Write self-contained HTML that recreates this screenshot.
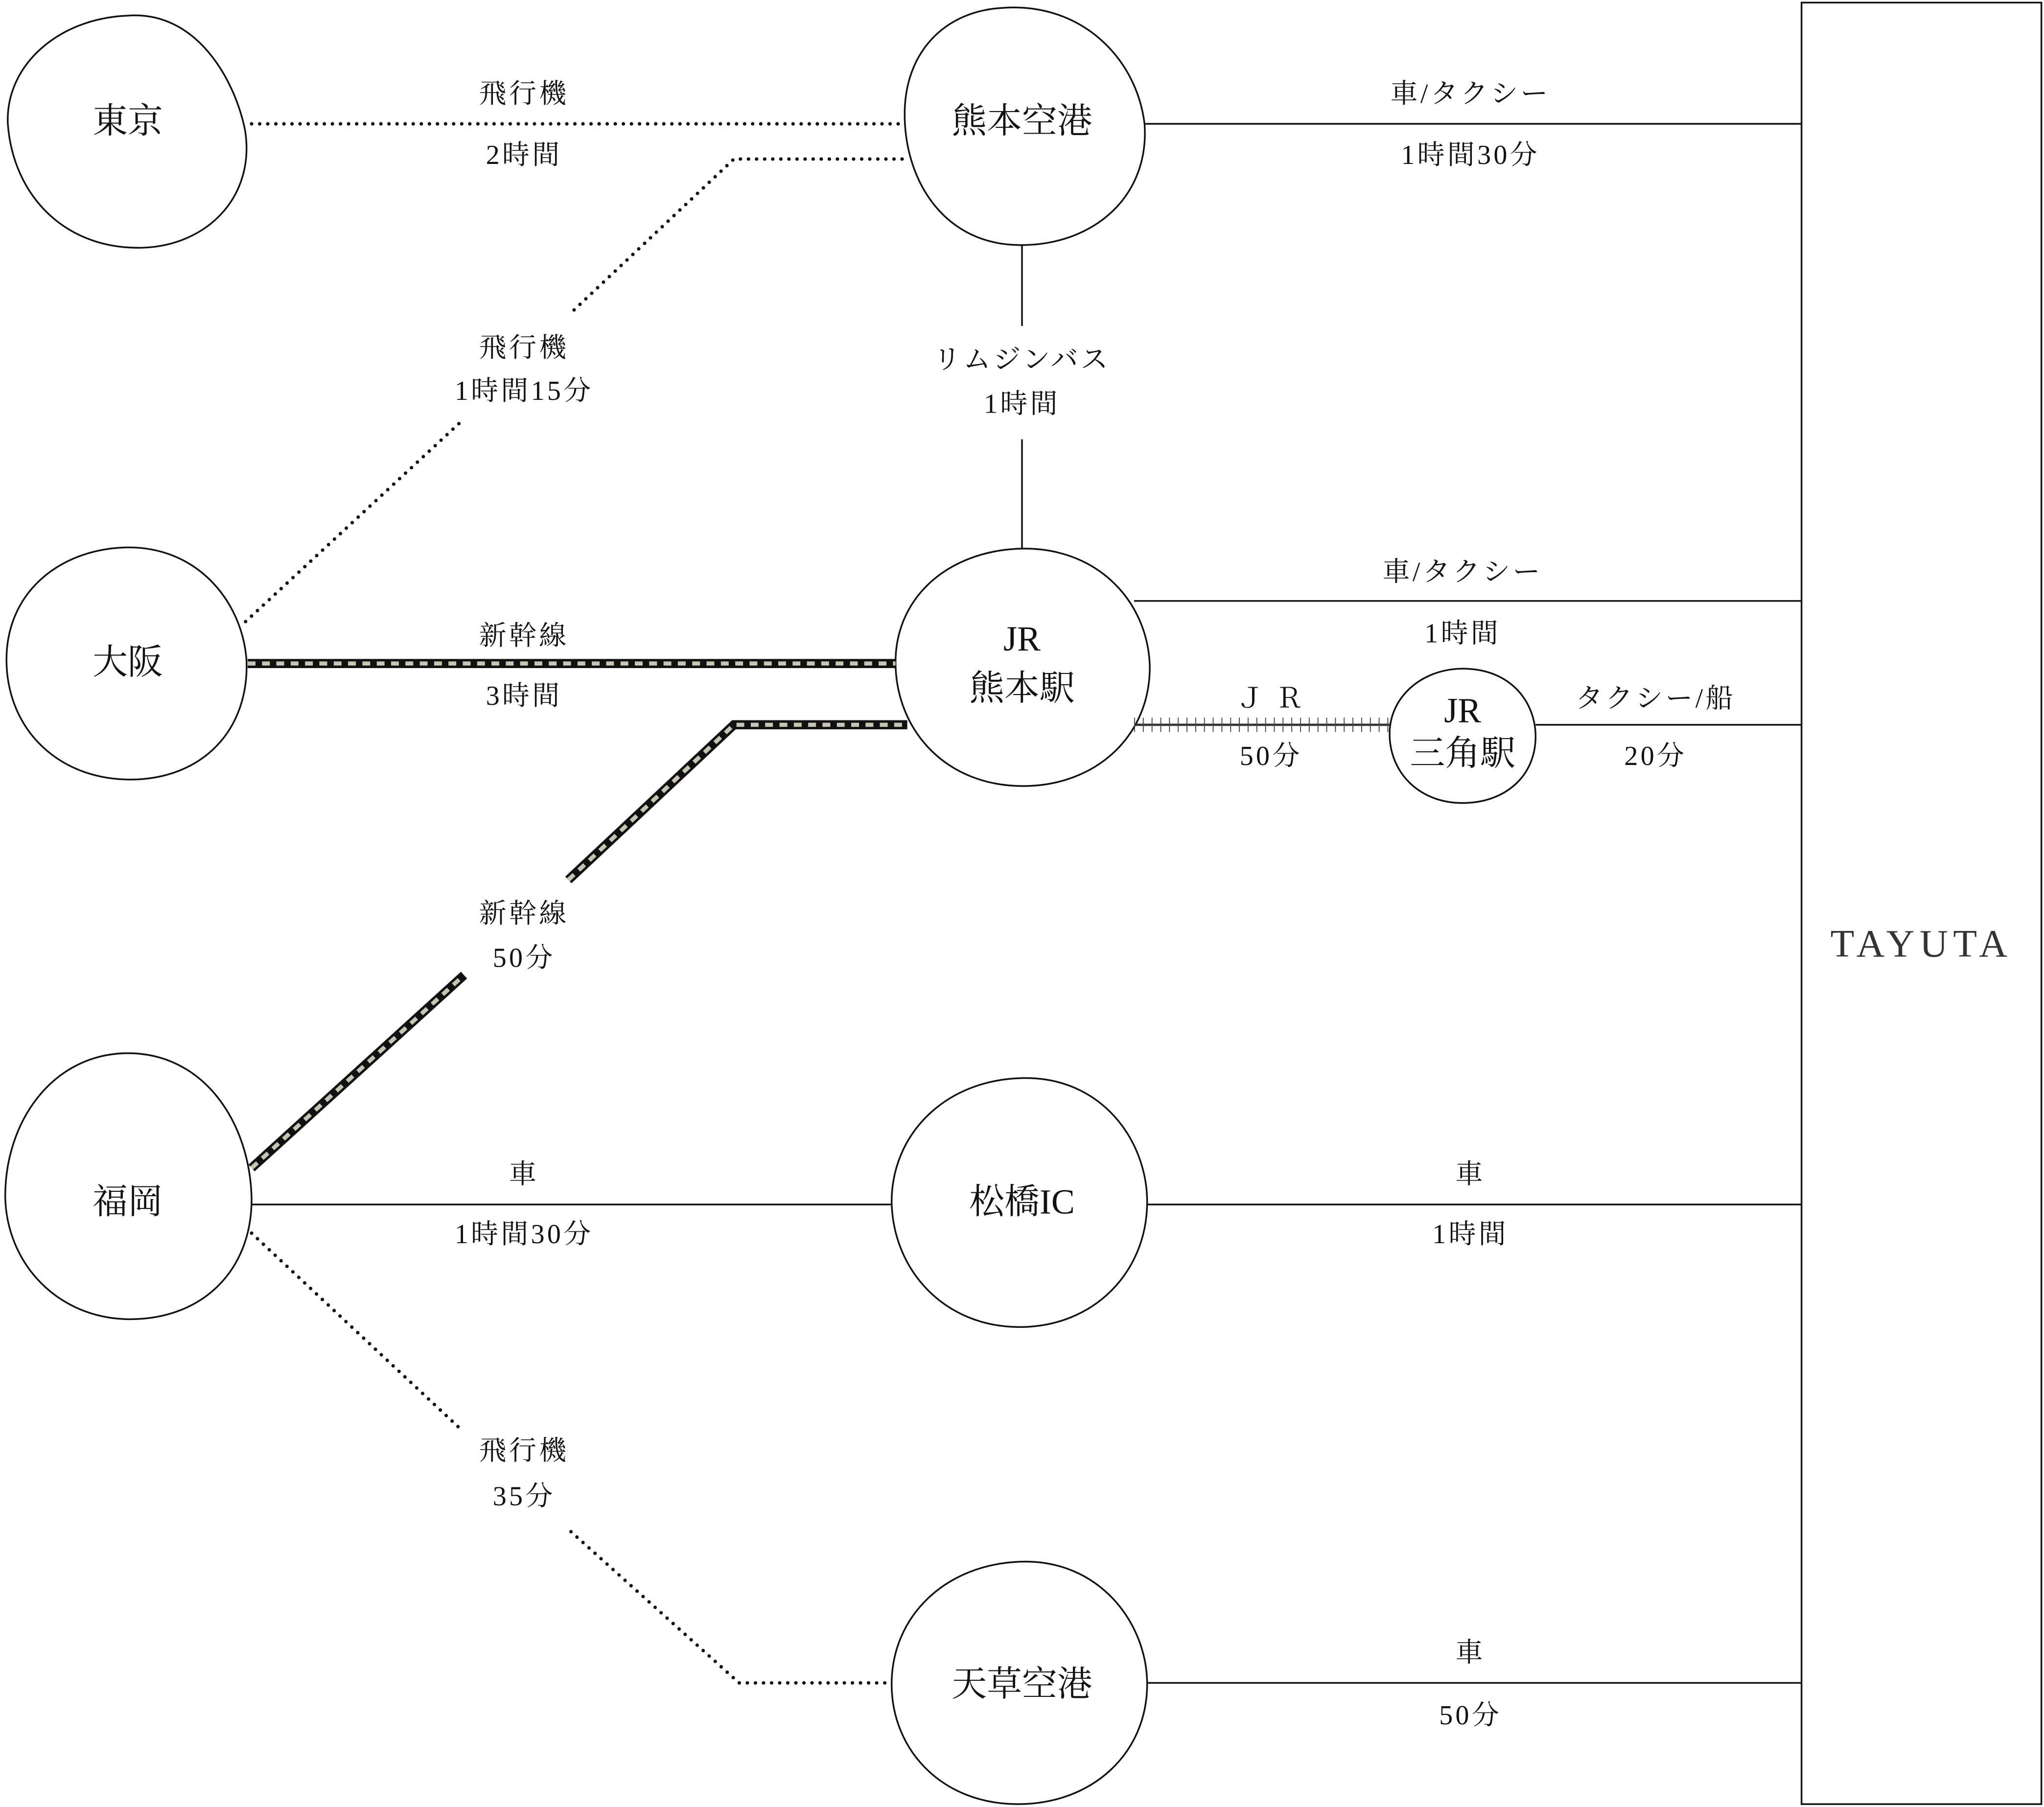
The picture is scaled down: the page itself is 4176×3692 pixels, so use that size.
<!DOCTYPE html>
<html><head><meta charset="utf-8">
<style>
html,body{margin:0;padding:0;background:#fff;}
svg{display:block;width:4176px;height:3692px;}
text{font-family:"Liberation Serif","Noto Serif CJK SC","Noto Serif CJK JP",serif;fill:#111;text-anchor:middle;dominant-baseline:central;}
.l{font-size:21px;letter-spacing:2px;}
.n{font-size:27px;}
</style></head><body>
<svg viewBox="0 0 1568 1386.2" preserveAspectRatio="none" xmlns="http://www.w3.org/2000/svg">
<g fill="none" stroke="#111" stroke-width="1.3">
<path d="M98,12 C150,8 180,60 188,100 C196,150 160,188 110,190 C50,192 10,150 6,95 C4,50 45,14 98,12Z"/>
<path d="M770,6 C830,2 872,45 878,95 C882,150 840,188 783,188 C725,188 695,140 694,90 C693,40 725,8 770,6Z"/>
<path d="M95,420 C150,418 185,460 189,505 C192,560 155,598 100,598 C45,598 6,560 5,508 C4,455 45,422 95,420Z"/>
<path d="M780,421 C840,418 880,460 882,510 C883,565 840,603 785,603 C725,603 688,560 687,510 C686,460 725,424 780,421Z"/>
<path d="M1120,513 C1160,512 1178,540 1178,565 C1178,595 1155,616 1122,616 C1088,616 1066,592 1066,563 C1066,535 1090,514 1120,513Z"/>
<path d="M95,808 C155,806 192,860 193,920 C193,975 155,1012 100,1012 C45,1012 5,970 4,918 C4,860 40,810 95,808Z"/>
<path d="M785,827 C845,826 880,875 880,922 C880,975 840,1018 782,1018 C725,1018 685,975 684,922 C684,870 725,828 785,827Z"/>
<path d="M783,1198 C843,1196 880,1245 880,1292 C880,1345 838,1384 781,1384 C722,1384 684,1342 684,1292 C684,1240 725,1200 783,1198Z"/>
<rect x="1382" y="2" width="184" height="1382"/>
<line x1="878" y1="95" x2="1382" y2="95"/>
<line x1="784" y1="188" x2="784" y2="250"/>
<line x1="784" y1="337" x2="784" y2="421"/>
<line x1="870" y1="461" x2="1382" y2="461"/>
<line x1="1178" y1="556" x2="1382" y2="556"/>
<line x1="193" y1="924" x2="684" y2="924"/>
<line x1="880" y1="924" x2="1382" y2="924"/>
<line x1="880" y1="1291" x2="1382" y2="1291"/>
</g>
<g fill="none" stroke="#111" stroke-width="2.7" stroke-linecap="round" stroke-dasharray="0 6.2">
<line x1="193" y1="95" x2="692" y2="95"/>
<polyline points="692,122 563,122 438,240"/>
<line x1="352" y1="325" x2="185" y2="480"/>
<line x1="193" y1="946" x2="352" y2="1095"/>
<polyline points="438,1175 567,1291 684,1291"/>
</g>
<g fill="none" stroke-linejoin="miter">
<line x1="190" y1="509" x2="687" y2="509" stroke="#111" stroke-width="7"/>
<line x1="190" y1="509" x2="687" y2="509" stroke="#c8c4b4" stroke-width="3.2" stroke-dasharray="6 5"/>
<polyline points="193,896 356,748" stroke="#111" stroke-width="7"/>
<polyline points="193,896 356,748" stroke="#c8c4b4" stroke-width="3.2" stroke-dasharray="6 5"/>
<polyline points="436,675 563,556 696,556" stroke="#111" stroke-width="7"/>
<polyline points="436,675 563,556 696,556" stroke="#c8c4b4" stroke-width="3.2" stroke-dasharray="6 5"/>
</g>
<line x1="870" y1="556" x2="1066" y2="556" stroke="#333" stroke-width="1.8"/>
<line x1="870" y1="556" x2="1066" y2="556" stroke="#444" stroke-width="11" stroke-dasharray="0.7 6"/>
<text class="n" x="98" y="93">東京</text>
<text class="n" x="784" y="93">熊本空港</text>
<text class="n" x="98" y="508">大阪</text>
<text class="n" x="784" y="490">JR</text>
<text class="n" x="784" y="528">熊本駅</text>
<text class="n" x="1122" y="545">JR</text>
<text class="n" x="1122" y="578">三角駅</text>
<text class="n" x="98" y="922">福岡</text>
<text class="n" x="784" y="922">松橋IC</text>
<text class="n" x="784" y="1292">天草空港</text>
<text x="1474" y="724" style="font-size:30px;letter-spacing:4px;font-family:'Liberation Serif',serif;fill:#333">TAYUTA</text>
<g class="l">
<text x="402" y="72">飛行機</text><text x="402" y="119">2時間</text>
<text x="1128" y="72">車/タクシー</text><text x="1128" y="119">1時間30分</text>
<text x="402" y="267">飛行機</text><text x="402" y="300">1時間15分</text>
<text x="784" y="276">リムジンバス</text><text x="784" y="310">1時間</text>
<text x="1122" y="439">車/タクシー</text><text x="1122" y="486">1時間</text>
<text x="402" y="488">新幹線</text><text x="402" y="534">3時間</text>
<text x="975" y="536">Ｊ Ｒ</text><text x="975" y="580">50分</text>
<text x="1270" y="536">タクシー/船</text><text x="1270" y="580">20分</text>
<text x="402" y="701">新幹線</text><text x="402" y="735">50分</text>
<text x="402" y="901">車</text><text x="402" y="947">1時間30分</text>
<text x="1128" y="901">車</text><text x="1128" y="947">1時間</text>
<text x="402" y="1113">飛行機</text><text x="402" y="1148">35分</text>
<text x="1128" y="1268">車</text><text x="1128" y="1316">50分</text>
</g>
</svg>
</body></html>
